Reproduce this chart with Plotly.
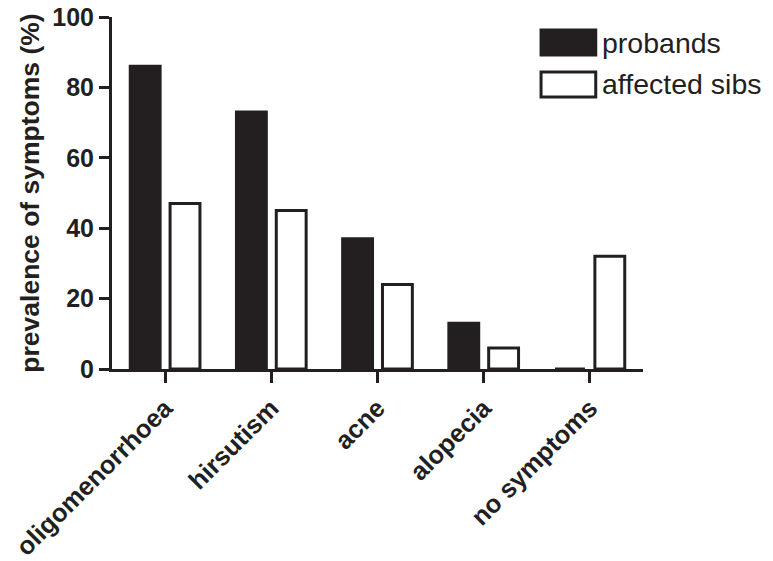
import plotly.graph_objects as go

categories = ["oligomenorrhoea", "hirsutism", "acne", "alopecia", "no symptoms"]
probands = [86, 73, 37, 13, 0]
affected_sibs = [47, 45, 24, 6, 32]
series_names = ["probands", "affected sibs"]
y_ticks = [0, 20, 40, 60, 80, 100]

INK = "#231f20"
FONT = "Liberation Sans, Arial, sans-serif"

fig = go.Figure()
fig.add_trace(go.Bar(x=categories, y=probands, name=series_names[0],
                     marker=dict(color=INK, line=dict(color=INK, width=3))))
fig.add_trace(go.Bar(x=categories, y=affected_sibs, name=series_names[1],
                     marker=dict(color="white", line=dict(color=INK, width=3))))

fig.update_layout(
    width=773, height=561,
    margin=dict(l=112, r=130, t=17, b=192),
    paper_bgcolor="white", plot_bgcolor="white",
    barmode="group", bargap=0.25, bargroupgap=0.25,
    showlegend=False,
    font=dict(family=FONT, color=INK),
)
fig.update_xaxes(
    range=[-0.5, 4.5], showline=True, linecolor=INK, linewidth=3, automargin=False,
    ticks="outside", ticklen=11, tickwidth=3, tickcolor=INK,
    tickangle=-45, tickfont=dict(family=FONT, size=25.5, color=INK, weight="bold"),
    showgrid=False, zeroline=False,
)
fig.update_yaxes(
    range=[0, 100], tickvals=y_ticks, showline=True, linecolor=INK, linewidth=3, automargin=False,
    ticks="outside", ticklen=10, tickwidth=3, tickcolor=INK,
    tickfont=dict(family=FONT, size=25, color=INK, weight="bold"),
    title=dict(text="prevalence of symptoms (%)", standoff=6,
               font=dict(family=FONT, size=26.5, color=INK, weight="bold")),
    showgrid=False, zeroline=False,
)

# custom legend with large swatches
legend_items = [(series_names[0], INK, 0.963, 0.892), (series_names[1], "white", 0.844, 0.773)]
for name, fill, y1, y0 in legend_items:
    fig.add_shape(type="rect", xref="paper", yref="paper", x0=0.808, x1=0.911, y0=y0, y1=y1,
                  fillcolor=fill, line=dict(color=INK, width=3))
    fig.add_annotation(xref="paper", yref="paper", x=0.919, y=(y0 + y1) / 2, text=name,
                       showarrow=False, xanchor="left", yanchor="middle",
                       font=dict(family=FONT, size=28.5, color=INK))

fig.write_html("out.html")
